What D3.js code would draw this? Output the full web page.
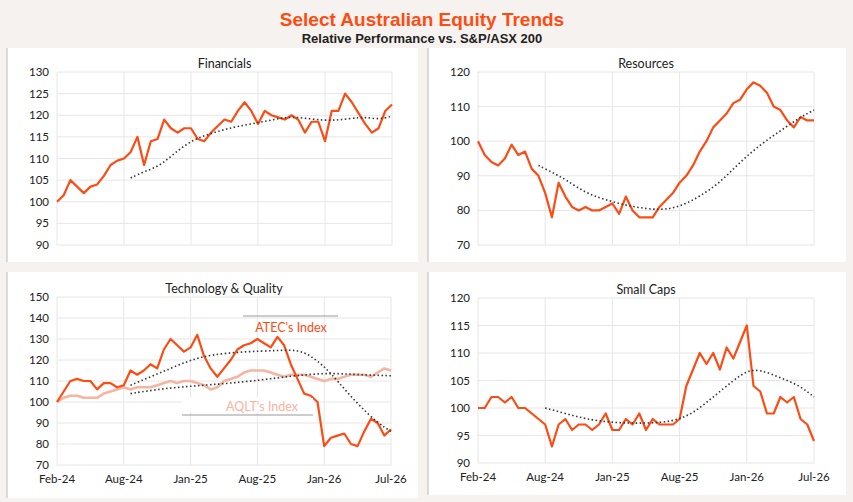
<!DOCTYPE html>
<html><head><meta charset="utf-8">
<script src="https://cdn.jsdelivr.net/npm/d3@7"></script>
<style>body{margin:0;background:#f6f2ef;}svg{display:block;font-family:Lato,sans-serif;}</style>
</head><body>
<svg id="chart" width="853" height="502"></svg>
<script>
let dateTicks = ["Feb-24","Aug-24","Jan-25","Aug-25","Jan-26","Jul-26"];

// 51 points, 10 per tick interval
let financials = [100,101.5,105,103.5,102,103.5,104,106,108.5,109.5,110,111.5,115,108.5,114,114.5,119,117,116,117,117,114.5,114,116,117.5,119,118.5,121,123,121,118,121,120,119.5,119,120,119,116,118.5,118.5,114,121,121,125,123,120.5,118,116,117,121,122.5];
let financialsMA = [[11,105.5],[13,107],[15,108],[17,110.5],[19,113],[21,114.8],[24,116.3],[27,117.5],[31,118.5],[35,120],[40,118.5],[44,119.3],[46,119.6],[48,119],[50,119.8]];

let resources = [100,96,94,93,95,99,96,97,92,90,85,78,88,84,81,80,81,80,80,81,82,79,84,80,78,78,78,81,83,85,88,90,93,97,100,104,106,108,111,112,115,117,116,114,110,109,106,104,107,106,106];
let resourcesMA = [[9,93],[11,91],[13,89],[16,85],[19,83],[23,81],[27,80],[30,81],[33,84],[36,88],[39,94],[42,99],[45,103],[48,107],[50,109]];

let atec = [100,105,110,111,110,110,106,109,109,107,108,115,113,115,118,116,125,130,127,124,126,132,122,116,112,116,120,125,127,128,130,128,126,131,127,118,111,104,103,100,79,83,84,85,80,79,86,92,90,84,87];
let aqlt = [100,102,103,103,102,102,102,104,105,106,107,106,107,107,107,108,109,110,109,110,110,109,108,106,107,110,111,112,114,115,115,115,114,113,112,113,113,113,112,111,110,111,111,112,113,113,113,112,114,116,115];
let atecMA = [[11,108],[14,112],[17,116],[20,120],[23,122.5],[28,124],[33,124.5],[36,125],[38,122],[40,117],[42,110],[45,99],[48,90],[50,86]];
let aqltMA = [[11,104],[16,106.5],[22,108],[28,109.5],[33,111.5],[37,113],[41,113.8],[45,113],[50,112.5]];

let smallCaps = [100,100,102,102,101,102,100,100,99,98,97,93,97,98,96,97,97,96,97,99,96,96,98,97,99,96,98,97,97,97,98,104,107,110,108,110,107,111,109,112,115,104,103,99,99,102,101,102,98,97,94];
let smallCapsMA = [[10,100],[13,99],[16,98],[20,97.3],[25,97.2],[29,97.5],[32,99],[35,102],[38,105],[40,106.8],[42,107],[45,105.5],[48,104],[50,102]];

const orange = "#fc4c14", pink = "#f7b4a0";
let svg = d3.select("#chart");

svg.append("text").attr("x",422).attr("y",26).attr("text-anchor","middle")
   .attr("font-family","Liberation Sans, Arial").attr("font-weight","bold").attr("font-size",19)
   .attr("fill",orange).text("Select Australian Equity Trends");
svg.append("text").attr("x",422).attr("y",43).attr("text-anchor","middle")
   .attr("font-family","Liberation Sans, Arial").attr("font-weight","bold").attr("font-size",13)
   .attr("fill","#222").text("Relative Performance vs. S&P/ASX 200");

function panel(box, plot, title, yDomain, yStep, showX, series) {
    svg.append("rect").attr("x",box[0]).attr("y",box[1]).attr("width",box[2]).attr("height",box[3]).attr("fill","#fff");
    svg.append("line").attr("x1",box[0]).attr("x2",box[0]).attr("y1",box[1]).attr("y2",box[1]+box[3]).attr("stroke","#bbb");
    let x = d3.scaleLinear().domain([0,50]).range([plot[0],plot[1]]);
    let y = d3.scaleLinear().domain(yDomain).range([plot[3],plot[2]]);
    let g = svg.append("g");
    let yt = d3.range(yDomain[0], yDomain[1]+0.1, yStep);
    g.selectAll(".hg").data(yt).join("line").attr("x1",plot[0]).attr("x2",plot[1])
     .attr("y1",d=>y(d)).attr("y2",d=>y(d)).attr("stroke","#e6e6e6");
    g.selectAll(".vg").data(dateTicks).join("line").attr("x1",(d,i)=>x(i*10)).attr("x2",(d,i)=>x(i*10))
     .attr("y1",plot[2]).attr("y2",plot[3]).attr("stroke","#e6e6e6");
    g.selectAll(".yl").data(yt).join("text").attr("x",plot[0]-8).attr("y",d=>y(d)+4)
     .attr("text-anchor","end").attr("font-size",11.5).attr("fill","#222").text(d=>d);
    if (showX) {
        g.selectAll(".xl").data(dateTicks).join("text").attr("x",(d,i)=>x(i*10)).attr("y",plot[3]+18)
         .attr("text-anchor","middle").attr("font-size",11.5).attr("fill","#222").text(d=>d);
    }
    g.append("text").attr("x",(plot[0]+plot[1])/2).attr("y",plot[2]-4).attr("text-anchor","middle")
     .attr("font-size",12.5).attr("fill","#222").text(title);
    series.forEach(s => {
        if (s.ma) {
            g.append("path").datum(s.data).attr("fill","none").attr("stroke","#333").attr("stroke-width",1.6)
             .attr("stroke-dasharray","1.5,2.5")
             .attr("d", d3.line().x(d=>x(d[0])).y(d=>y(d[1])).curve(d3.curveBasis));
        } else {
            g.append("path").datum(s.data).attr("fill","none").attr("stroke",s.color).attr("stroke-width",s.w||2.2)
             .attr("stroke-linejoin","round")
             .attr("d", d3.line().x((d,i)=>x(i)).y(d=>y(d)));
        }
    });
    return {g, x, y};
}

panel([7,48,411,214],[57,392,72,245],"Financials",[90,130],5,false,
      [{data:financials,color:orange},{data:financialsMA,ma:true}]);
panel([428,48,418,214],[478,814,72,245],"Resources",[70,120],10,false,
      [{data:resources,color:orange},{data:resourcesMA,ma:true}]);
let tech = panel([7,272,411,226],[57,391,297,465],"Technology & Quality",[70,150],10,true,
      [{data:aqlt,color:pink,w:2.6},{data:atec,color:orange},{data:atecMA,ma:true},{data:aqltMA,ma:true}]);
panel([428,272,418,223],[478,814,298,463],"Small Caps",[90,120],5,true,
      [{data:smallCaps,color:orange},{data:smallCapsMA,ma:true}]);

// annotations
let tg = tech.g;
tg.append("line").attr("x1",243).attr("x2",338).attr("y1",316).attr("y2",316).attr("stroke","#999");
tg.append("text").attr("x",291).attr("y",332).attr("text-anchor","middle").attr("font-size",12.5)
  .attr("fill",orange).text("ATEC's Index");
tg.append("rect").attr("x",182).attr("y",398).attr("width",131).attr("height",14).attr("fill","#fff");
tg.append("text").attr("x",262).attr("y",411).attr("text-anchor","middle").attr("font-size",12.5)
  .attr("fill",pink).text("AQLT's Index");
tg.append("line").attr("x1",182).attr("x2",313).attr("y1",415).attr("y2",415).attr("stroke","#999");
</script>
</body></html>
